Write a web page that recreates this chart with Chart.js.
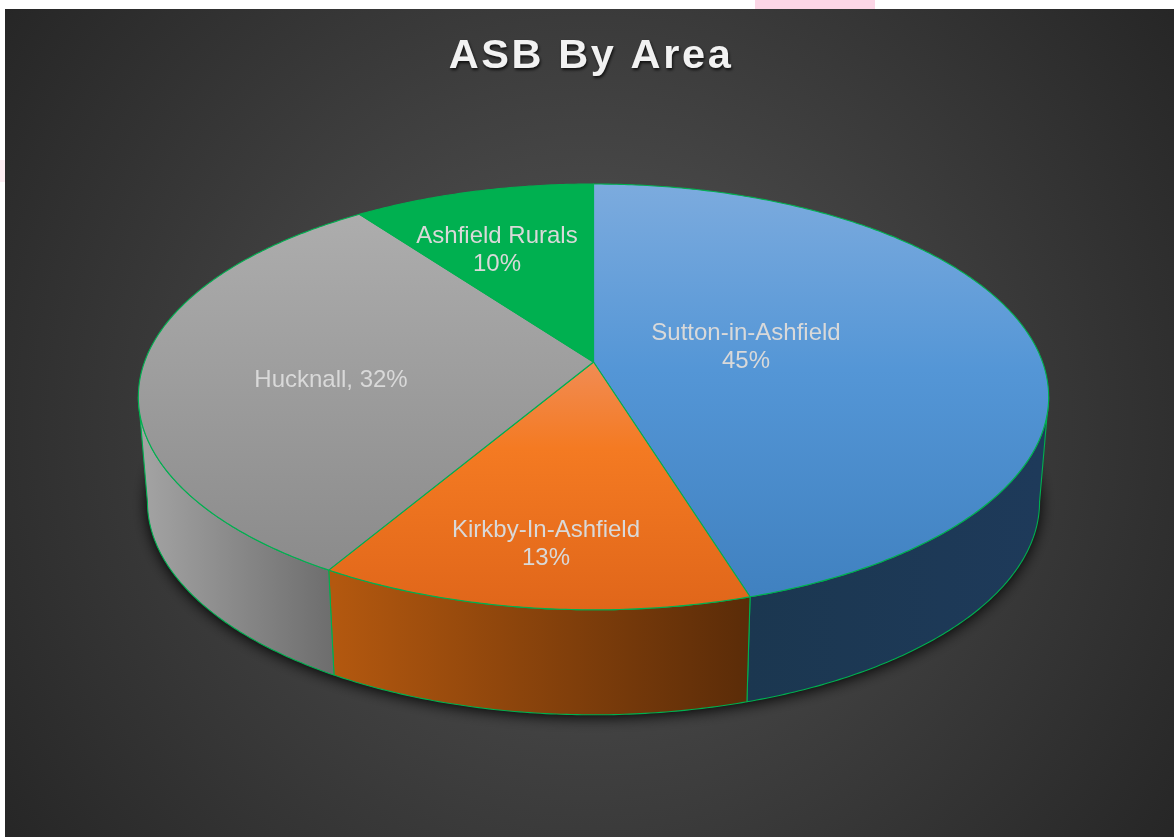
<!DOCTYPE html>
<html>
<head>
<meta charset="utf-8">
<title>ASB By Area</title>
<script src="https://cdn.jsdelivr.net/npm/chart.js@4"></script>
<style>
  html, body { margin: 0; padding: 0; background: #fff; overflow: hidden; }
  canvas { display: block; }
</style>
</head>
<body>
<canvas id="pie" width="1174" height="837"></canvas>
<script>
/* ===== DATA ===== */
const areas = ['Sutton-in-Ashfield', 'Kirkby-In-Ashfield', 'Hucknall', 'Ashfield Rurals'];
const shares = [45.25, 13.2, 31.5, 10.05];
const titleText = 'ASB By Area';

/* ===== STYLES ===== */
const FONT = '"Liberation Sans", Arial, sans-serif';
const EDGE = '#00b050';
const baseColors = ['#5b9bd5', '#ed7d31', '#a5a5a5', '#00b050'];
const faceStops = [
  [[0, '#7cabde'], [0.45, '#5496d6'], [1, '#4081c0']],
  [[0, '#f18c54'], [0.35, '#f47a22'], [1, '#e0661a']],
  [[0, '#adadad'], [1, '#8b8b8b']],
  [[0, '#00b050'], [1, '#00b050']]
];
const wallStops = [
  ['#1b3750', '#1e3a5a'],
  ['#b3580f', '#5b2c08'],
  ['#a2a2a2', '#6d6d6d'],
  ['#006b30', '#006b30']
];
// label anchors, one per slice, and whether the value goes on its own line
const labelSpots = [[746, 333], [546, 530], [331, 380], [497, 236]];
const labelTwoLines = [true, true, false, true];

/* ===== 3D PROJECTION ===== */
const view = { cx: 593.5, apexY: 362, a: 449, b: 147.8, p: -0.164, depth: 105, shrink: 0.98 };

// t is clockwise from the top of the pie, f is the fraction of the radius
function topPoint(t, f = 1) {
  const X = f * Math.sin(t), Y = -f * Math.cos(t);
  const d = 1 + view.p * Y;
  return [view.cx + view.a * X / d, (view.b * Y + view.apexY) / d];
}
function bottomPoint(t) {
  const [x, y] = topPoint(t);
  return [view.cx + (x - view.cx) * view.shrink, y + view.depth];
}
function sliceAngles(arc) {
  return [arc.startAngle + Math.PI / 2, arc.endAngle + Math.PI / 2];
}
function trace(ctx, from, to, fn, first) {
  const n = Math.max(2, Math.ceil(Math.abs(to - from) / 0.01));
  for (let i = 0; i <= n; i++) {
    const [x, y] = fn(from + (to - from) * i / n);
    if (i === 0 && first) ctx.moveTo(x, y); else ctx.lineTo(x, y);
  }
}

/* ===== PLUGIN ===== */
const pie3d = {
  id: 'pie3d',
  beforeDraw(chart) {
    const ctx = chart.ctx;
    // page strip behind the slide
    ctx.fillStyle = '#fff';
    ctx.fillRect(0, 0, 1174, 837);
    ctx.fillStyle = '#fcd6e6';
    ctx.fillRect(755, 0, 120, 9);
    ctx.fillStyle = '#fdeef3';
    ctx.fillRect(0, 160, 5, 22);

    const bg = ctx.createRadialGradient(590, 423, 0, 590, 423, 720);
    bg.addColorStop(0, '#565656');
    bg.addColorStop(1, '#262626');
    ctx.fillStyle = bg;
    ctx.fillRect(5, 9, 1169, 828);

    // picked up by the title box, reset again before the slices
    ctx.letterSpacing = '2.6px';
    ctx.shadowColor = 'rgba(0,0,0,0.75)';
    ctx.shadowBlur = 3;
    ctx.shadowOffsetX = 1;
    ctx.shadowOffsetY = 2;
  },
  beforeDatasetsDraw(chart) {
    const ctx = chart.ctx;
    ctx.letterSpacing = '0px';
    ctx.shadowColor = 'transparent';
    ctx.shadowBlur = 0;
    ctx.shadowOffsetX = 0;
    ctx.shadowOffsetY = 0;

    const arcs = chart.getDatasetMeta(0).data;
    const tMin = Math.acos(view.p);          // silhouette of the wall, right
    const tMax = 2 * Math.PI - tMin;         // and left

    // drop shadow under the disc
    ctx.save();
    ctx.shadowColor = 'rgba(0,0,0,1)';
    ctx.shadowBlur = 15;
    ctx.shadowOffsetY = 2;
    ctx.fillStyle = '#111';
    ctx.beginPath();
    trace(ctx, 0, Math.PI * 2, bottomPoint, true);
    ctx.closePath();
    ctx.fill();
    ctx.restore();

    // walls
    arcs.forEach((arc, i) => {
      const [s, e] = sliceAngles(arc);
      const from = Math.max(s, tMin), to = Math.min(e, tMax);
      if (to <= from) return;
      const g = ctx.createLinearGradient(bottomPoint(to)[0], 0, bottomPoint(from)[0], 0);
      g.addColorStop(0, wallStops[i][0]);
      g.addColorStop(1, wallStops[i][1]);
      ctx.beginPath();
      trace(ctx, from, to, topPoint, true);
      trace(ctx, to, from, bottomPoint, false);
      ctx.closePath();
      ctx.fillStyle = g;
      ctx.fill();
      ctx.strokeStyle = EDGE;
      ctx.lineWidth = 1.1;
      ctx.lineJoin = 'round';
      ctx.stroke();
    });

    // top faces
    arcs.forEach((arc, i) => {
      const [s, e] = sliceAngles(arc);
      let top = view.apexY, bottom = view.apexY;
      for (let k = 0; k <= 100; k++) {
        const y = topPoint(s + (e - s) * k / 100)[1];
        top = Math.min(top, y);
        bottom = Math.max(bottom, y);
      }
      const g = ctx.createLinearGradient(0, top, 0, bottom);
      faceStops[i].forEach(st => g.addColorStop(st[0], st[1]));
      ctx.beginPath();
      ctx.moveTo(view.cx, view.apexY);
      trace(ctx, s, e, topPoint, false);
      ctx.closePath();
      ctx.fillStyle = g;
      ctx.fill();
      ctx.strokeStyle = EDGE;
      ctx.lineWidth = 1.1;
      ctx.lineJoin = 'round';
      ctx.stroke();
    });
    return false; // slices are painted above, from the library's own angles
  },
  afterDraw(chart) {
    const ctx = chart.ctx;
    ctx.save();
    ctx.font = '24px ' + FONT;
    ctx.fillStyle = '#d9d9d9';
    ctx.textAlign = 'center';
    ctx.textBaseline = 'middle';
    areas.forEach((name, i) => {
      const pct = Math.round(shares[i]) + '%';
      const [x, y] = labelSpots[i];
      if (labelTwoLines[i]) {
        ctx.fillText(name, x, y);
        ctx.fillText(pct, x, y + 28.5);
      } else {
        ctx.fillText(name + ', ' + pct, x, y);
      }
    });
    ctx.restore();
  }
};

/* ===== CHART ===== */
new Chart(document.getElementById('pie'), {
  type: 'pie',
  data: {
    labels: areas,
    datasets: [{ data: shares, backgroundColor: baseColors, borderColor: EDGE, borderWidth: 1 }]
  },
  options: {
    responsive: false,
    animation: false,
    layout: { padding: { left: 8 } },
    plugins: {
      legend: { display: false },
      tooltip: { enabled: false },
      title: {
        display: true,
        text: titleText,
        color: '#f2f2f2',
        font: { family: FONT, size: 41.5, weight: 'bold' },
        padding: { top: 32, bottom: 10 }
      }
    }
  },
  plugins: [pie3d]
});
</script>
</body>
</html>
